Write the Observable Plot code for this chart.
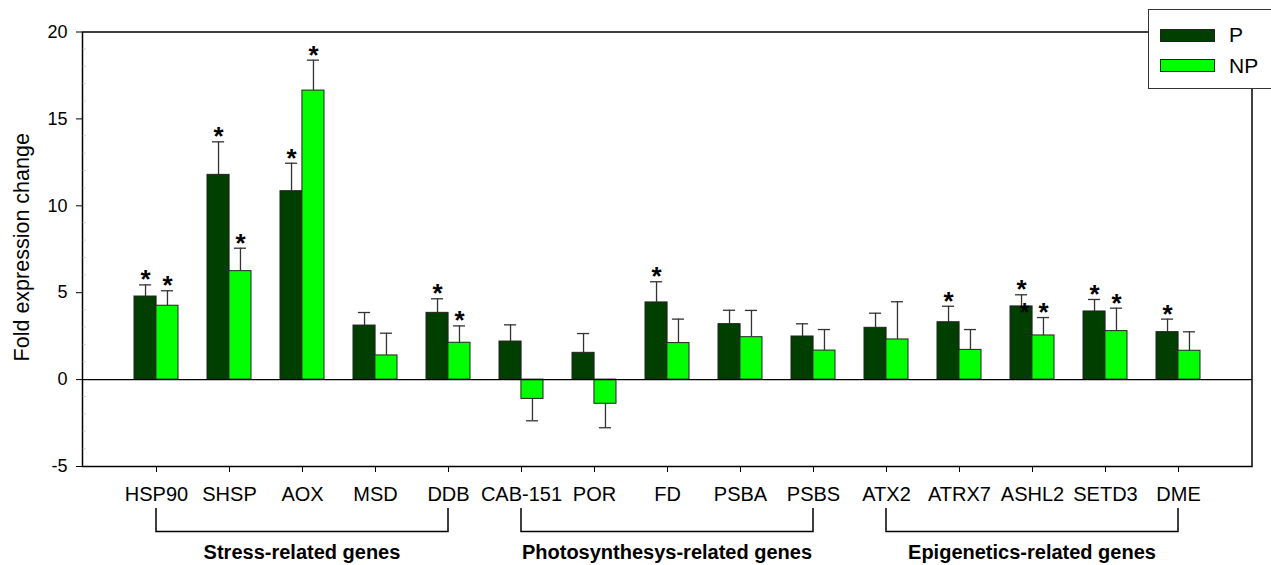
<!DOCTYPE html>
<html><head><meta charset="utf-8">
<script src="https://cdn.jsdelivr.net/npm/d3@7"></script>
<script src="https://cdn.jsdelivr.net/npm/@observablehq/plot@0.6"></script>
<style>
html,body{margin:0;padding:0;background:#fff;overflow:hidden;}
#wrap{position:relative;width:1271px;height:565px;font-family:"Liberation Sans",Arial,sans-serif;overflow:hidden;}
#chart{position:absolute;left:0;top:0;}
#legend{position:absolute;left:1148px;top:9px;width:140px;height:80px;border:1.5px solid #333;background:#fff;box-sizing:border-box;}
.sw{position:absolute;left:11px;width:55px;height:13px;border:1px solid #222;box-sizing:border-box;}
.lt{position:absolute;left:80px;font-size:21px;line-height:1;color:#000;}
</style>
</head><body>
<div id="wrap"><div id="chart"></div>
<div id="legend">
  <div class="sw" style="top:19px;background:#003f00"></div><div class="lt" style="top:13.5px">P</div>
  <div class="sw" style="top:49px;background:#00ff00"></div><div class="lt" style="top:44.5px">NP</div>
</div></div>
<script>
const genes = ["HSP90","SHSP","AOX","MSD","DDB","CAB-151","POR","FD","PSBA","PSBS","ATX2","ATRX7","ASHL2","SETD3","DME"];
const P     = [4.78, 11.78, 10.84, 3.11, 3.84, 2.19, 1.54, 4.44, 3.19, 2.48, 2.98, 3.30, 4.21, 3.92, 2.73];
const Perr  = [0.67, 1.90, 1.61, 0.75, 0.81, 0.96, 1.11, 1.19, 0.80, 0.73, 0.84, 0.92, 0.67, 0.69, 0.75];
const NP    = [4.25, 6.24, 16.63, 1.39, 2.12, -1.11, -1.39, 2.10, 2.44, 1.67, 2.31, 1.71, 2.54, 2.79, 1.66];
const NPerr = [0.86, 1.32, 1.75, 1.28, 0.97, 1.26, 1.38, 1.38, 1.54, 1.21, 2.17, 1.17, 1.03, 1.32, 1.09];
const sigP  = [1,1,1,0,1,0,0,1,0,0,0,1,1,1,1];
const sigNP = [1,1,1,0,1,0,0,0,0,0,0,0,1,1,0];
const strayStarGenes = ["ASHL2"]; // extra asterisk drawn on top of the P bar
const yTicks = [-5, 0, 5, 10, 15, 20];
const groupNames = ["Stress-related genes", "Photosynthesys-related genes", "Epigenetics-related genes"];
const groupFirst = ["HSP90", "CAB-151", "ATX2"];
const groupLast  = ["DDB", "PSBS", "DME"];

const data = genes.map((g, i) => ({
  gene: g,
  p: P[i], pEnd: P[i] + Math.sign(P[i]) * Perr[i],
  np: NP[i], npEnd: NP[i] + Math.sign(NP[i]) * NPerr[i],
  sp: sigP[i], snp: sigNP[i]
}));

const W = 1271, H = 565, mL = 82, mR = 19.5, mT = 31.5, mB = 99;
const step = (W - mL - mR) / (genes.length + 1);
const bw = step * 0.6, half = bw / 2, q = bw / 4, cap = 6;
const darkG = "#003f00", lightG = "#00ff00", errC = "#333";
const starSize = 26;

const chart = Plot.plot({
  width: W, height: H,
  marginLeft: mL, marginRight: mR, marginTop: mT, marginBottom: mB,
  style: {fontFamily: "'Liberation Sans', Arial, sans-serif", color: "#000", background: "transparent"},
  x: {type: "band", domain: genes, paddingInner: 0.4, paddingOuter: 0.7},
  y: {domain: [-5, 20]},
  marks: [
    Plot.barY(data, {x: "gene", y: "p", fill: darkG, stroke: "#222", strokeWidth: 1, insetRight: half}),
    Plot.barY(data, {x: "gene", y: "np", fill: lightG, stroke: "#222", strokeWidth: 1, insetLeft: half}),
    Plot.ruleY([0], {stroke: "#000", strokeWidth: 1.2}),
    Plot.ruleX(data, {x: "gene", y1: "p", y2: "pEnd", dx: -q, stroke: errC, strokeWidth: 1.3}),
    Plot.ruleX(data, {x: "gene", y1: "np", y2: "npEnd", dx: q, stroke: errC, strokeWidth: 1.3}),
    Plot.tickY(data, {x: "gene", y: "pEnd", insetLeft: q - cap, insetRight: bw - q - cap, stroke: errC, strokeWidth: 1.3}),
    Plot.tickY(data, {x: "gene", y: "npEnd", insetLeft: 3 * q - cap, insetRight: q - cap, stroke: errC, strokeWidth: 1.3}),
    Plot.text(data.filter(d => d.sp), {x: "gene", y: "pEnd", text: () => "*", dx: -q, dy: 3.5, lineAnchor: "bottom", fontSize: starSize, fontWeight: "bold"}),
    Plot.text(data.filter(d => d.snp), {x: "gene", y: "npEnd", text: () => "*", dx: q, dy: 3.5, lineAnchor: "bottom", fontSize: starSize, fontWeight: "bold"}),
    Plot.text(data.filter(d => strayStarGenes.includes(d.gene)), {x: "gene", y: "p", text: () => "*", dx: -q + 3, dy: 15, lineAnchor: "bottom", fontSize: starSize, fontWeight: "bold"}),
    Plot.frame({stroke: "#000", strokeWidth: 1.5}),
    Plot.axisY({ticks: yTicks, tickSize: 6, tickPadding: 9, fontSize: 18, label: null, tickFormat: d => String(d)}),
    Plot.axisX({tickSize: 6, tickPadding: 14.7, fontSize: 20, label: null}),
    Plot.text(["Fold expression change"], {frameAnchor: "left", rotate: -90, dx: -54, dy: -2, lineAnchor: "bottom", textAnchor: "middle", fontSize: 21.5}),
    (index, scales, values, dims, context) => {
      const x = scales.x, y = scales.y;
      const off = typeof x.bandwidth === "function" ? x.bandwidth() / 2 : (x.bandwidth || 0) / 2;
      const g = d3.create("svg:g");
      for (let v = -5; v <= 20; v++) {
        if (v % 5 === 0) continue;
        g.append("line").attr("x1", mL + 0.8).attr("x2", mL + 3.5).attr("y1", y(v)).attr("y2", y(v))
          .attr("stroke", "#c8c8c8").attr("stroke-width", 1);
      }
      groupNames.forEach((name, i) => {
        const a = x(groupFirst[i]) + off, b = x(groupLast[i]) + off;
        g.append("path").attr("d", `M${a},508V531.5H${b}V508`).attr("fill", "none")
          .attr("stroke", "#000").attr("stroke-width", 1.5);
        g.append("text").attr("x", (a + b) / 2).attr("y", 559).attr("text-anchor", "middle")
          .attr("font-weight", "bold").attr("font-size", 20).attr("fill", "#000").text(name);
      });
      return g.node();
    }
  ]
});
document.getElementById("chart").appendChild(chart);
</script>
</body></html>
